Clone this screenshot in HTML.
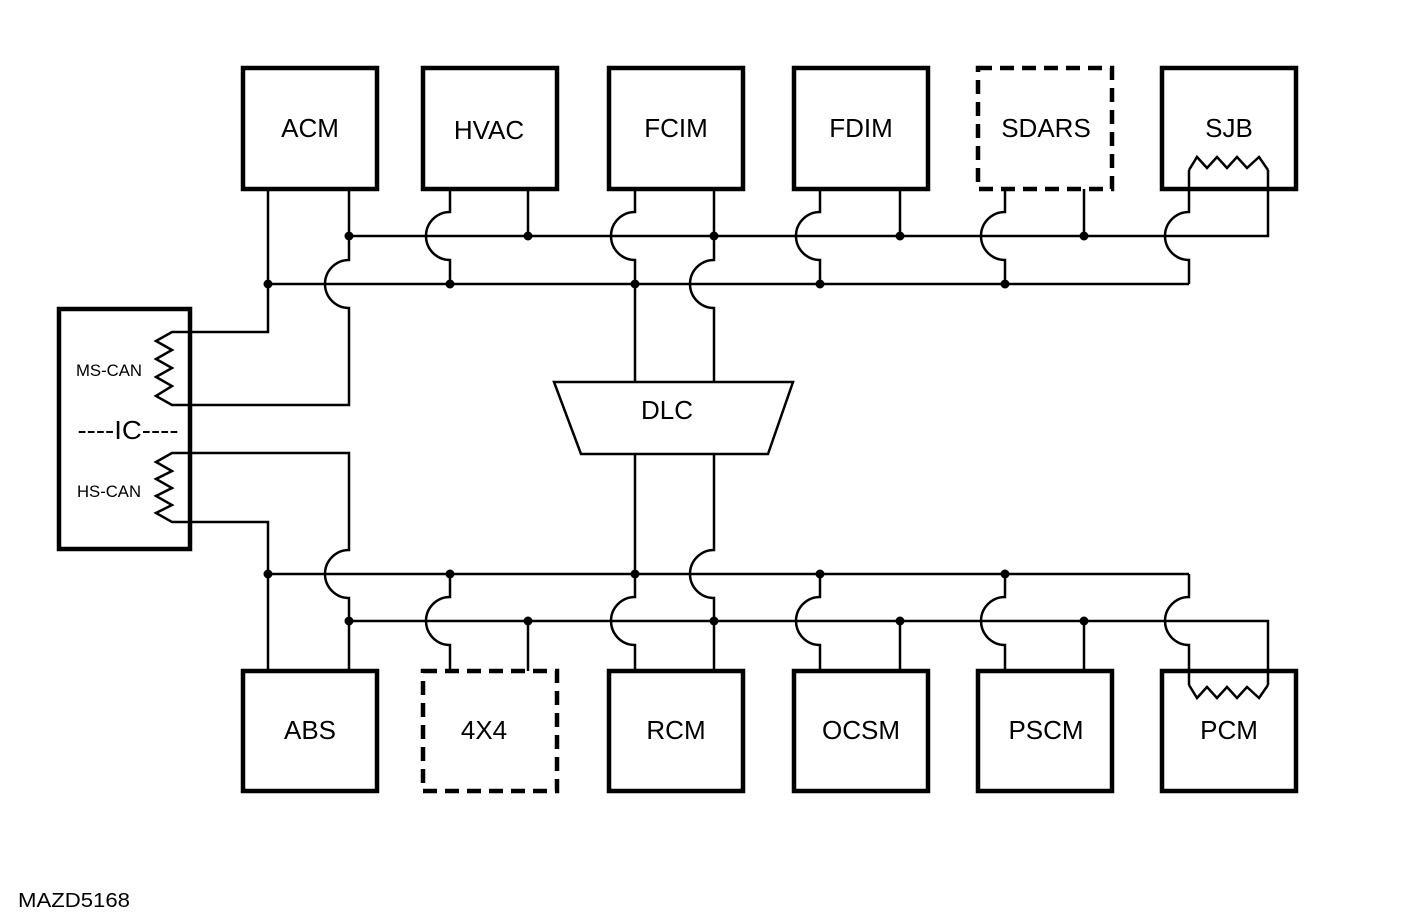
<!DOCTYPE html>
<html><head><meta charset="utf-8"><style>
html,body{margin:0;padding:0;background:#fff;}
svg{display:block;}
text{font-family:"Liberation Sans",sans-serif;fill:#000;}
</style></head><body>
<svg width="1407" height="924" viewBox="0 0 1407 924" xmlns="http://www.w3.org/2000/svg">
<g fill="none" stroke="#000" stroke-width="2.5">
<path d="M349 236 H1268 V170"/>
<path d="M268 284 H1189"/>
<path d="M268 189 V332 H190"/>
<path d="M349 189 V260 A24 24 0 0 0 349 308 V405 H190"/>
<path d="M450 189 V212 A24 24 0 0 0 450 260 V284"/>
<path d="M528 189 V236"/>
<path d="M635 189 V212 A24 24 0 0 0 635 260 V382"/>
<path d="M714 189 V260 A24 24 0 0 0 714 308 V382"/>
<path d="M820 189 V212 A24 24 0 0 0 820 260 V284"/>
<path d="M900 189 V236"/>
<path d="M1005 189 V212 A24 24 0 0 0 1005 260 V284"/>
<path d="M1084 189 V236"/>
<path d="M1189 170 V212 A24 24 0 0 0 1189 260 V284"/>
<path d="M1189 170 L1197 157 L1207 168 L1217 157 L1227 168 L1237 157 L1247 168 L1259 157 L1268 170"/>
<path d="M268 574 H1189"/>
<path d="M349 621 H1268 V685"/>
<path d="M190 522 H268 V671"/>
<path d="M190 453 H349 V550 A24 24 0 0 0 349 598 V671"/>
<path d="M450 574 V597 A24 24 0 0 0 450 645 V671"/>
<path d="M528 621 V671"/>
<path d="M635 454 V597 A24 24 0 0 0 635 645 V671"/>
<path d="M714 454 V550 A24 24 0 0 0 714 598 V671"/>
<path d="M820 574 V597 A24 24 0 0 0 820 645 V671"/>
<path d="M900 621 V671"/>
<path d="M1005 574 V597 A24 24 0 0 0 1005 645 V671"/>
<path d="M1084 621 V671"/>
<path d="M1189 574 V597 A24 24 0 0 0 1189 645 V685"/>
<path d="M1189 685 L1197 698 L1207 687 L1217 698 L1227 687 L1237 698 L1247 687 L1259 698 L1268 685"/>
<path d="M554 382 H793 L768 454 H581 Z"/>
<path d="M190 332 H172 L156 341 L172 350 L156 359 L172 368 L156 377 L172 386 L156 396 L172 405 H190"/>
<path d="M190 453 H172 L156 462 L172 471 L156 479 L172 488 L156 496 L172 505 L156 513 L172 522 H190"/>
</g>
<g fill="none" stroke="#000" stroke-width="4.5">
<rect x="59" y="309" width="131" height="240"/>
<rect x="243" y="68" width="134" height="121"/>
<rect x="423" y="68" width="134" height="121"/>
<rect x="609" y="68" width="134" height="121"/>
<rect x="794" y="68" width="134" height="121"/>
<rect x="978" y="68" width="134" height="121" stroke-dasharray="14 8"/>
<rect x="1162" y="68" width="134" height="121"/>
<rect x="243" y="671" width="134" height="120"/>
<rect x="423" y="671" width="134" height="120" stroke-dasharray="14 8"/>
<rect x="609" y="671" width="134" height="120"/>
<rect x="794" y="671" width="134" height="120"/>
<rect x="978" y="671" width="134" height="120"/>
<rect x="1162" y="671" width="134" height="120"/>
</g>
<g fill="#000">
<circle cx="349" cy="236" r="4.5"/><circle cx="528" cy="236" r="4.5"/><circle cx="714" cy="236" r="4.5"/><circle cx="900" cy="236" r="4.5"/><circle cx="1084" cy="236" r="4.5"/>
<circle cx="268" cy="284" r="4.5"/><circle cx="450" cy="284" r="4.5"/><circle cx="635" cy="284" r="4.5"/><circle cx="820" cy="284" r="4.5"/><circle cx="1005" cy="284" r="4.5"/>
<circle cx="268" cy="574" r="4.5"/><circle cx="450" cy="574" r="4.5"/><circle cx="635" cy="574" r="4.5"/><circle cx="820" cy="574" r="4.5"/><circle cx="1005" cy="574" r="4.5"/>
<circle cx="349" cy="621" r="4.5"/><circle cx="528" cy="621" r="4.5"/><circle cx="714" cy="621" r="4.5"/><circle cx="900" cy="621" r="4.5"/><circle cx="1084" cy="621" r="4.5"/>
</g>
<g font-size="26" text-anchor="middle">
<text x="310" y="137">ACM</text>
<text x="489" y="139">HVAC</text>
<text x="676" y="137">FCIM</text>
<text x="861" y="137">FDIM</text>
<text x="1046" y="137">SDARS</text>
<text x="1229" y="137">SJB</text>
<text x="310" y="739">ABS</text>
<text x="484" y="739">4X4</text>
<text x="676" y="739">RCM</text>
<text x="861" y="739">OCSM</text>
<text x="1046" y="739">PSCM</text>
<text x="1229" y="739">PCM</text>
<text x="667" y="419">DLC</text>
<text x="128" y="439" textLength="101" lengthAdjust="spacingAndGlyphs">----IC----</text>
</g>
<g font-size="17" text-anchor="middle">
<text x="109" y="376" textLength="66" lengthAdjust="spacingAndGlyphs">MS-CAN</text>
<text x="109" y="497" textLength="64" lengthAdjust="spacingAndGlyphs">HS-CAN</text>
</g>
<text x="18" y="907" font-size="20" textLength="112" lengthAdjust="spacingAndGlyphs">MAZD5168</text>
</svg>
</body></html>
